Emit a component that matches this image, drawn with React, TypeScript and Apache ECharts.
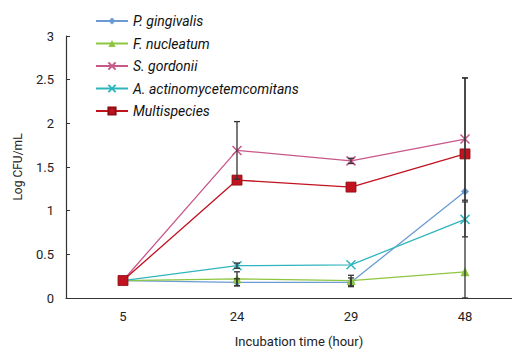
import React, { useEffect, useRef } from "react";
import * as echarts from "echarts";

const categories = ["5", "24", "29", "48"];
const seriesNames = ["P. gingivalis", "F. nucleatum", "S. gordonii", "A. actinomycetemcomitans", "Multispecies"];
const pGingivalis = [0.2, 0.18, 0.18, 1.22];
const fNucleatum = [0.2, 0.22, 0.2, 0.3];
const sGordonii = [0.2, 1.69, 1.57, 1.82];
const aActino = [0.2, 0.37, 0.38, 0.9];
const multispecies = [0.2, 1.35, 1.27, 1.65];
const errPGingivalis = [0, 0.04, 0.05, 1.3];
const errFNucleatum = [0, 0.08, 0.06, 0];
const errSGordonii = [0, 0.33, 0.03, 0.7];
const errAActino = [0, 0.03, 0, 0.2];
const errMultispecies = [0, 0, 0, 0];
const yTicks = [0, 0.5, 1, 1.5, 2, 2.5, 3];

const colors = ["#6b9bd2", "#8dc63f", "#c8578a", "#2fb5bd", "#c1121f"];
const font = "'Liberation Sans Narrow', 'Roboto', sans-serif";
const xPath = "path://M0,0L10,10M10,0L0,10";

export default function App() {
  const ref = useRef<HTMLDivElement>(null);
  useEffect(() => {
    if (!ref.current) return;
    const chart = echarts.init(ref.current, null, { renderer: "svg" });
    const values = [pGingivalis, fNucleatum, sGordonii, aActino, multispecies];
    const errs = [errPGingivalis, errFNucleatum, errSGordonii, errAActino, errMultispecies];
    const symbols = ["diamond", "triangle", xPath, xPath, "rect"];
    const sizes = [8, 9, 9, 9, 10];
    const errData: number[][] = [];
    values.forEach((arr, si) => {
      arr.forEach((v, i) => {
        const e = errs[si][i];
        if (e > 0) errData.push([i, Math.max(0, v - e), v + e]);
      });
    });
    const lineSeries = seriesNames.map((name, si) => ({
      name,
      type: "line",
      data: values[si],
      symbol: symbols[si],
      symbolSize: sizes[si],
      lineStyle: { color: colors[si], width: 1.3 },
      itemStyle: {
        color: colors[si],
        borderColor: si === 4 ? "#8e0c14" : colors[si],
        borderWidth: si === 2 || si === 3 ? 1.5 : si === 4 ? 0.8 : 0,
      },
      z: 3,
    }));
    chart.setOption({
      animation: false,
      grid: { left: 66, right: 8, top: 36, bottom: 53, containLabel: false },
      legend: {
        left: 90,
        top: 9,
        orient: "vertical",
        itemGap: 8.5,
        itemWidth: 32,
        itemHeight: 9,
        data: seriesNames,
        textStyle: { fontFamily: font, fontStyle: "italic", fontSize: 14, color: "#111" },
      },
      xAxis: {
        type: "category",
        data: categories,
        boundaryGap: true,
        axisLine: { lineStyle: { color: "#333", width: 1.2 } },
        axisTick: { alignWithLabel: true, length: 5, lineStyle: { color: "#333" } },
        axisLabel: { color: "#222", fontFamily: font, fontSize: 13, margin: 12 },
        name: "Incubation time (hour)",
        nameLocation: "middle",
        nameGap: 37,
        nameTextStyle: { color: "#222", fontFamily: font, fontSize: 13, padding: [0, 0, 0, 10] },
      },
      yAxis: {
        type: "value",
        min: 0,
        max: 3,
        interval: 0.5,
        splitLine: { show: false },
        axisLine: { show: true, lineStyle: { color: "#333", width: 1.2 } },
        axisTick: { show: true, inside: true, length: 4, lineStyle: { color: "#333" } },
        axisLabel: {
          color: "#222",
          fontFamily: font,
          fontSize: 13,
          margin: 12,
          formatter: (v: number) => (yTicks.includes(v) ? String(v) : ""),
        },
        name: "Log CFU/mL",
        nameLocation: "middle",
        nameGap: 42,
        nameTextStyle: { color: "#222", fontFamily: font, fontSize: 12 },
      },
      series: [
        ...lineSeries,
        {
          type: "custom",
          name: "err",
          data: errData,
          z: 5,
          encode: { x: 0, y: [1, 2] },
          renderItem: (params: any, api: any) => {
            const x = api.value(0);
            const lo = api.coord([x, api.value(1)]);
            const hi = api.coord([x, api.value(2)]);
            const w = 3;
            const style = { stroke: "#333", lineWidth: 1.3 };
            return {
              type: "group",
              children: [
                { type: "line", shape: { x1: lo[0], y1: lo[1], x2: hi[0], y2: hi[1] }, style },
                { type: "line", shape: { x1: hi[0] - w, y1: hi[1], x2: hi[0] + w, y2: hi[1] }, style },
                { type: "line", shape: { x1: lo[0] - w, y1: lo[1], x2: lo[0] + w, y2: lo[1] }, style },
              ],
            };
          },
        },
      ],
    });
    return () => chart.dispose();
  }, []);
  return (
    <div
      ref={ref}
      style={{ position: "fixed", left: 0, top: 0, width: 530, height: 353, background: "#fff" }}
    />
  );
}
